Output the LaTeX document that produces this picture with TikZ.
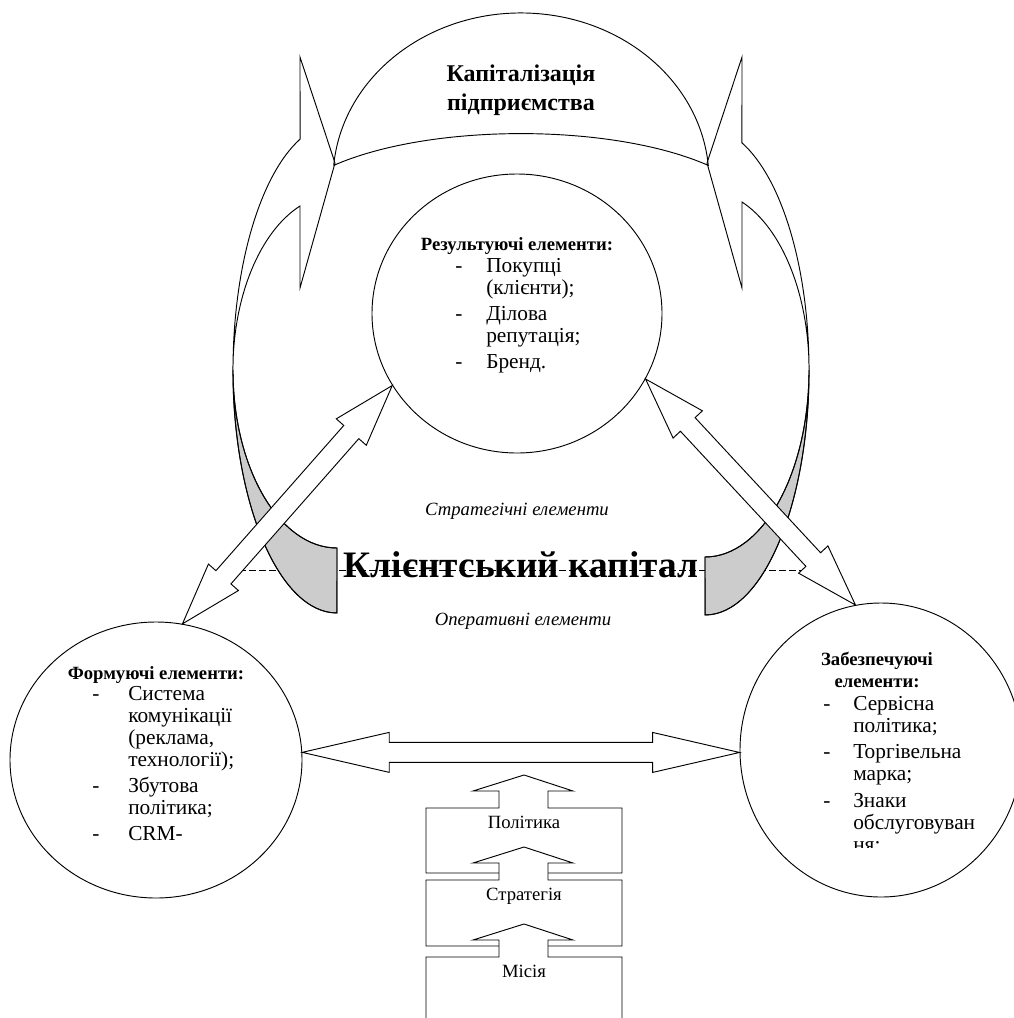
\documentclass[tikz,border=0pt]{standalone}
\usepackage{fontspec}
\setmainfont{Liberation Serif}
\usetikzlibrary{calc,shapes.geometric}

\newdimen\pxu \pxu=0.75pt

\tikzset{
  lineset/.style={line width=0.7pt, line join=miter},
  blockarr/.style={lineset, draw, fill=white},
  circbox/.style={draw, ellipse, line width=0.7pt, inner sep=0pt},
  greyface/.style={lineset, draw, fill=black!20},
  stackbox/.style={lineset, draw, fill=white},
  txt/.style={font=\fontsize{14}{16.5}\selectfont, inner sep=0pt},
  listtxt/.style={font=\fontsize{16}{16.5}\selectfont, inner sep=0pt, anchor=base west},
}

% block arrow with two heads, #3 = head length
\newcommand{\dblarrow}[3]{%
  \path let \p1 = ($(#2)-(#1)$) in
    \pgfextra{\pgfmathsetmacro{\arrang}{atan2(\y1,\x1)}%
      \pgfmathsetmacro{\arrlen}{veclen(\x1,\y1)/0.75}%
      \xdef\arrang{\arrang}\xdef\arrlen{\arrlen}};
  \draw[blockarr, shift={(#1)}, rotate=\arrang]
    (0,0) -- (#3,20) -- (#3,10) -- (\arrlen-#3,10) -- (\arrlen-#3,20) -- (\arrlen,0)
    -- (\arrlen-#3,-20) -- (\arrlen-#3,-10) -- (#3,-10) -- (#3,-20) -- cycle;
}

% rectangle with up arrow on top, #1 = top, #2 = bottom
\newcommand{\upbox}[2]{%
  \draw[stackbox] (426,-#2) -- (426,-#1) -- (499,-#1) -- (499,-#1+17) -- (473,-#1+17)
    -- (524,-#1+33) -- (573,-#1+17) -- (548,-#1+17) -- (548,-#1) -- (622,-#1)
    -- (622,-#2) -- cycle;
}

\begin{document}
\begin{tikzpicture}[x=0.75pt, y=0.75pt]
        \useasboundingbox (0,0) rectangle (1014,-1018);
        \clip (0,0) rectangle (1014,-1018);

        % line between the two levels
        \coordinate (dl) at (229,-570);
        \coordinate (dr) at (818,-570);
        \draw[line width=0.6pt, dash pattern=on 5.25pt off 2.25pt] (dl) -- (dr);

        % left curved arrow
        \draw[greyface] (233,-370) arc[start angle=180, end angle=270, x radius=104, y radius=243]
            -- (337,-548) arc[start angle=270, end angle=180, x radius=104, y radius=178] -- cycle;
        \draw[lineset] (337,-548) arc[start angle=270, end angle=180, x radius=104, y radius=178]
            arc[start angle=180, end angle=110.8, x radius=104, y radius=247]
            -- (300,-57) -- (335,-163) -- (300,-288) -- (300,-206)
            arc[start angle=110.8, end angle=180, x radius=104, y radius=175.4]
            arc[start angle=180, end angle=270, x radius=104, y radius=243] -- cycle;

        % right curved arrow
        \draw[greyface] (809,-370) arc[start angle=0, end angle=-90, x radius=104, y radius=245]
            -- (705,-557) arc[start angle=-90, end angle=0, x radius=104, y radius=187] -- cycle;
        \draw[lineset] (705,-557) arc[start angle=-90, end angle=0, x radius=104, y radius=187]
            arc[start angle=0, end angle=69.2, x radius=104, y radius=243]
            -- (742,-57) -- (707,-163) -- (742,-288) -- (742,-202)
            arc[start angle=69.2, end angle=0, x radius=104, y radius=179.7]
            arc[start angle=0, end angle=-90, x radius=104, y radius=245] -- cycle;

        % cap on top
        \draw[lineset] (333.7,-165.4) arc[start angle=175, end angle=5, x radius=188, y radius=167]
            .. controls (612,-123) and (430,-123) .. (333.7,-165.4);
        \node[inner sep=0pt, anchor=base, font=\bfseries\fontsize{18}{21.75}\selectfont] (kap) at (521,-81)
            {\begin{tabular}[t]{@{}c@{}}Капіталізація\\підприємства\end{tabular}};

        % circles
        \node[circbox, minimum width=290\pxu, minimum height=279\pxu] (res) at (517,-313.5) {};
        \node[circbox, minimum width=292\pxu, minimum height=276\pxu] (form) at (156,-760) {};
        \node[circbox, minimum width=282\pxu, minimum height=294\pxu] (zab) at (881,-750) {};

        % arrows between circles
        \dblarrow{form.79}{res.210}{62}
        \dblarrow{res.333}{zab.100}{62}
        \dblarrow{form.3}{zab.181}{87}

        % mission, strategy, policy
        \upbox{808}{873}
        \upbox{880}{946}
        \upbox{957}{1040}
        \node[txt, anchor=base] (pol) at (524,-828) {Політика};
        \node[txt, anchor=base] (str) at (524,-900) {Стратегія};
        \node[txt, anchor=base] (mis) at (524,-977) {Місія};

        % texts
        \node[txt, anchor=base, font=\bfseries\fontsize{28}{30}\selectfont] (kk) at (521,-577) {Клієнтський капітал};
        \node[txt, anchor=base, font=\itshape\fontsize{14}{16.5}\selectfont] (strat) at (517,-515) {Стратегічні елементи};
        \node[txt, anchor=base, font=\itshape\fontsize{14}{16.5}\selectfont] (oper) at (523,-625) {Оперативні елементи};

        \node[txt, anchor=base] (resh) at (517,-250) {\textbf{Результуючі елементи:}};
        \node[listtxt] (resl) at (455,-272) {\begin{tabular}[t]{@{}p{31\pxu}@{}l@{}}
            - & Покупці\\ & (клієнти);\\[3pt]
            - & Ділова\\ & репутація;\\[3pt]
            - & Бренд.
          \end{tabular}};

        \node[txt, anchor=base] (formh) at (156,-679) {\textbf{Формуючі елементи:}};
        \node[listtxt] (forml) at (92,-700) {\begin{tabular}[t]{@{}p{36\pxu}@{}l@{}}
            - & Система\\ & комунікації\\ & (реклама,\\ & технології);\\[3pt]
            - & Збутова\\ & політика;\\[3pt]
            - & CRM-
          \end{tabular}};

        \node[txt, anchor=base] (zabh) at (877,-665) {\begin{tabular}[t]{@{}c@{}}\textbf{Забезпечуючі}\\\textbf{елементи:}\end{tabular}};
        \begin{scope}
          \clip (700,-600) rectangle (1014,-847);
          \node[listtxt] (zabl) at (823,-710) {\begin{tabular}[t]{@{}p{30\pxu}@{}l@{}}
              - & Сервісна\\ & політика;\\[3.5pt]
              - & Торгівельна\\ & марка;\\[3.5pt]
              - & Знаки\\ & обслуговуван\\ & ня;
            \end{tabular}};
        \end{scope}
    \end{tikzpicture}
\end{document}
